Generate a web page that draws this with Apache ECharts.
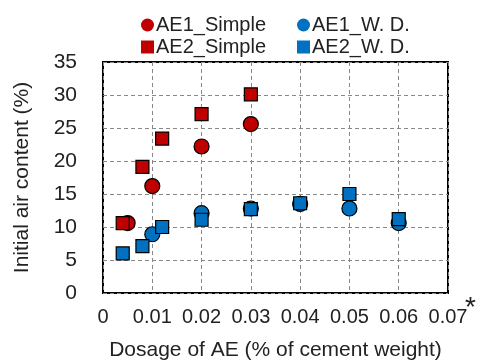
<!DOCTYPE html>
<html>
<head>
<meta charset="utf-8">
<script src="https://cdn.jsdelivr.net/npm/echarts@6/dist/echarts.min.js"></script>
<style>
  html, body { margin: 0; padding: 0; background: #fff; }
  #chart { width: 480px; height: 361px; }
</style>
</head>
<body>
<div id="chart"></div>
<script>
// dosage (% of cement weight) and initial air content (%)
const ae1SimpleX = [0.005, 0.01, 0.02, 0.03];
const ae1SimpleY = [10.6, 16.2, 22.2, 25.6];
const ae2SimpleX = [0.004, 0.008, 0.012, 0.02, 0.03];
const ae2SimpleY = [10.6, 19.1, 23.4, 27.1, 30.1];
const ae1WdX = [0.01, 0.02, 0.03, 0.04, 0.05, 0.06];
const ae1WdY = [8.9, 12.1, 12.8, 13.5, 12.8, 10.6];
const ae2WdX = [0.004, 0.008, 0.012, 0.02, 0.03, 0.04, 0.05, 0.06];
const ae2WdY = [6.0, 7.1, 10.0, 11.1, 12.7, 13.6, 15.0, 11.2];

const RED = '#c00000';
const BLUE = '#0070c0';
const FONT = 'Liberation Sans';
const TXT = '#222';

const pairs = (xs, ys) => xs.map((x, i) => [x, ys[i]]);

const chart = echarts.init(document.getElementById('chart'));

function scatter(name, xs, ys, symbol, color, size) {
  return {
    name: name,
    type: 'scatter',
    data: pairs(xs, ys),
    symbol: symbol,
    symbolSize: size,
    itemStyle: { color: color, opacity: 1, borderColor: '#000', borderWidth: 1.2 },
  };
}

// two stacked legend columns, like the original
function legendCol(left, names) {
  return {
    orient: 'vertical',
    top: 9,
    left: left,
    itemWidth: 13,
    itemHeight: 13,
    itemGap: 0,
    textStyle: { fontSize: 20, lineHeight: 22, color: TXT, fontFamily: FONT, padding: [0, 0, 0, -3] },
    data: names,
  };
}

chart.setOption({
  animation: false,
  textStyle: { fontFamily: FONT },
  legend: [
    legendCol(136, [
      { name: 'AE1_Simple', icon: 'circle', itemStyle: { borderWidth: 0 } },
      { name: 'AE2_Simple', icon: 'rect', itemStyle: { borderWidth: 0 } },
    ]),
    legendCol(292, [
      { name: 'AE1_W. D.', icon: 'circle', itemStyle: { borderWidth: 0 } },
      { name: 'AE2_W. D.', icon: 'rect', itemStyle: { borderWidth: 0 } },
    ]),
  ],
  grid: {
    left: 103,
    right: 32,
    top: 62,
    bottom: 68,
    outerBoundsMode: 'none',
    show: true,
    borderColor: '#000',
    borderWidth: 2,
  },
  xAxis: {
    type: 'value',
    min: 0,
    max: 0.07,
    interval: 0.01,
    name: 'Dosage of AE (% of cement weight)',
    nameLocation: 'middle',
    nameGap: 47,
    nameTextStyle: { fontSize: 21, color: TXT, fontFamily: FONT },
    axisLine: { show: false },
    axisTick: { show: false },
    axisLabel: { fontSize: 20, color: TXT, margin: 14, fontFamily: FONT },
    splitLine: { show: true, lineStyle: { color: '#888', type: [4, 3], width: 1 } },
  },
  yAxis: {
    type: 'value',
    min: 0,
    max: 35,
    interval: 5,
    name: 'Initial air content (%)',
    nameLocation: 'middle',
    nameGap: 70,
    nameTextStyle: { fontSize: 21, color: TXT, fontFamily: FONT },
    axisLine: { show: false },
    axisTick: { show: false },
    axisLabel: { fontSize: 21, color: TXT, margin: 26, fontFamily: FONT },
    splitLine: { show: true, lineStyle: { color: '#888', type: [4, 3], width: 1 } },
  },
  graphic: [
    {
      type: 'text',
      left: 465,
      top: 294,
      style: { text: '*', fontSize: 28, fill: TXT, fontFamily: FONT },
    },
  ],
  series: [
    scatter('AE1_Simple', ae1SimpleX, ae1SimpleY, 'circle', RED, 15),
    scatter('AE1_W. D.', ae1WdX, ae1WdY, 'circle', BLUE, 15),
    scatter('AE2_Simple', ae2SimpleX, ae2SimpleY, 'rect', RED, 13),
    scatter('AE2_W. D.', ae2WdX, ae2WdY, 'rect', BLUE, 13),
  ],
});
</script>
</body>
</html>
